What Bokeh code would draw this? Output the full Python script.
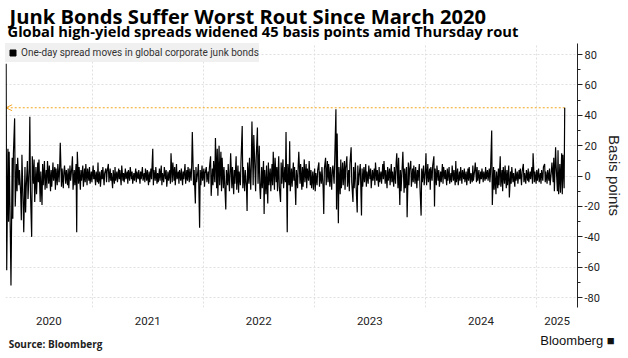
import pandas as pd
from bokeh.plotting import figure
from bokeh.layouts import column
from bokeh.models import (Range1d, FixedTicker, Label, Legend, LegendItem,
                          Arrow, OpenHead, LinearAxis)
from bokeh.embed import file_html
from bokeh.resources import INLINE

title_text = "Junk Bonds Suffer Worst Rout Since March 2020"
subtitle_text = "Global high-yield spreads widened 45 basis points amid Thursday rout"
series_name = "One-day spread moves in global corporate junk bonds"
source_text = "Source: Bloomberg"
brand_text = "Bloomberg \u25A0"
y_axis_label = "Basis points"

last_date = "2025-04-03"
# one-day spread moves (bp), read every ~2 business days
spread_moves = [
    74, -62, 18, -30, 16, -40, -72, 12, -28, 15, 38, -20,
    8, -10, 12, -6, 4, -12, -29, 14, -18, -37, 6, -24,
    -8, 10, -15, 5, 39, -10, -40, 13, -5, 11, -17, 6,
    -12, 9, -4, 11, -17, 3, -19, 8, -6, 10, -9, 4,
    -8, 10, -5, 7, -10, 4, -7, 9, -3, 6, -9, 5,
    -6, 8, -4, 6, 22, -7, 5, -8, 3, 7, -5, 4,
    -6, 5, -8, 7, -3, 6, 13, -9, 4, -6, 8, -37,
    16, -5, 6, -9, 4, -3, 7, -7, 5, -4, 8, -6,
    5, -3, 6, -5, 3, -4, 7, -2, 4, -6, 3, -4,
    9, -5, 3, -7, 4, -2, 6, -6, 2, 5, -4, 3,
    8, -4, 5, -3, 2, -8, 4, -5, 6, -3, 3, -4,
    5, -2, 4, -6, 7, -3, 2, -4, 5, -2, 3, -5,
    4, -3, 6, -2, 3, -5, 2, -3, 5, -4, 3, -2,
    4, -5, 3, -2, 6, -3, 2, -4, 5, -3, 4, -6,
    3, -4, 5, -2, 18, -6, 4, -3, 6, -5, 2, -4,
    5, -3, 7, -6, 2, -4, 6, -2, 4, -7, 3, -3,
    4, -5, 15, -4, 9, -3, 6, -6, 8, -2, 3, -5,
    4, -3, 5, -6, 3, -2, 8, -5, 4, -3, 6, -4,
    5, -3, 7, 29, -6, 4, -18, 6, -4, 3, 8, -34,
    4, -6, 7, -3, 5, -7, 2, 6, -4, 3, -5, 5,
    13, -13, 5, -6, 10, -4, 25, -8, 18, -13, 20, -6,
    16, -10, 12, -8, 6, -12, -22, 4, -6, 8, -10, 2,
    15, -8, 6, -12, 4, -5, 13, -9, 7, -11, 3, -6,
    10, 33, -8, 6, -10, 4, -7, -23, 9, -5, 12, -9,
    8, 36, -6, 27, 4, -10, 12, 32, -5, 20, -8, -15,
    6, -8, 10, -25, 4, -12, 7, -18, 9, -6, 5, -10,
    8, -6, 16, -9, 12, -4, 6, -10, 13, -7, -17, 9,
    -5, 11, -8, 6, -4, 29, -37, 8, -6, 23, -10, 5,
    -7, 9, -3, 6, -19, 4, -8, 7, 16, -5, 8, -9,
    6, -7, 11, -4, 8, -8, 5, -3, 10, -6, 4, -8,
    3, -9, 5, -10, 2, -6, 4, 9, -7, 3, -5, 6,
    -8, -25, 5, 12, -6, 10, -4, 8, -7, 6, -9, 4,
    7, -5, 10, 44, -22, 28, -31, 6, -12, 11, -8, 9,
    -6, 10, -9, 5, 13, -7, 4, -10, 8, 19, -4, -17,
    6, -8, 9, -5, -24, 7, -6, 4, 8, -26, 5, -7,
    6, -4, 8, -7, 3, -5, 7, -2, 5, -8, 4, -3,
    5, -6, 9, -3, 4, -7, 6, -4, 3, -5, 8, -2,
    10, -5, 4, -8, 6, -3, 5, -6, 8, -4, 3, -7,
    6, -5, 9, 15, -8, 12, -19, 4, -10, 7, 16, -11,
    5, -8, 6, -27, 9, -6, 4, 10, -7, 5, -4, 7,
    -5, 6, -8, 4, -3, 8, -6, -26, 5, -4, 7, -6,
    4, 15, -6, 8, -4, 5, -9, 6, -3, 7, 13, -20,
    5, -6, 7, -3, 4, -7, 3, -4, 8, -5, 6, -2,
    4, -6, 5, -3, 6, -5, 2, -4, 7, -3, 4, -6,
    10, -4, 5, -6, 3, -3, 6, -5, 4, -2, 5, -4,
    3, -6, 5, -3, 6, -5, 2, -4, 7, -3, 4, 9,
    -4, 6, -3, 4, -5, 3, -2, 5, -4, 3, -3, 6,
    -2, 4, -3, 5, -4, 2, 30, -19, 6, -9, 4, -12,
    3, -8, 5, -6, 13, -7, 4, -10, 6, -5, 7, -8,
    4, -6, 7, -14, 3, -5, 6, -4, 2, -7, 5, -3,
    3, -5, 4, -2, 5, -6, 3, 8, -4, 2, -5, 4,
    -3, 5, -4, 3, -2, 6, -5, 15, -4, 3, -5, 4,
    -3, 5, -4, 2, -5, 4, -3, 6, 8, -4, 3, -5,
    4, -3, 5, -6, 3, 9, -4, 12, -10, 19, 6, -10,
    17, -12, 8, -11, 15, -12, 14, -8, 45,
]

year_labels = ["2020", "2021", "2022", "2023", "2024", "2025"]
y_ticks = [-80, -60, -40, -20, 0, 20, 40, 60, 80]
y_tick_labels = ["-80", "-60", "-40", "-20", "0", "20", "40", "60", "80"]

dates = pd.bdate_range(end=last_date, periods=len(spread_moves), freq="2B")

x_start = pd.Timestamp("2020-03-22")
x_end = pd.Timestamp("2025-05-15")

W = 628
HEAD_H = 43
MAIN_H = 358 - HEAD_H
FRAME_L, FRAME_R = 5, 577

BODY_FONT = "Roboto"
HEAD_FONT = "Open Sans"


def ms(ts):
    return int(pd.Timestamp(ts).value // 10**6)


# ---- header strip ----
head = figure(width=W, height=HEAD_H, x_range=Range1d(FRAME_L, FRAME_R),
              y_range=Range1d(HEAD_H, 0), x_axis_type=None, y_axis_type=None,
              output_backend="svg", toolbar_location=None,
              min_border_left=FRAME_L, min_border_right=W - FRAME_R,
              min_border_top=0, min_border_bottom=0)
head.outline_line_color = None
head.xgrid.visible = False
head.ygrid.visible = False
head.add_layout(Label(x=9, y=15.5, text=title_text, text_font=HEAD_FONT,
                      text_font_size="20.2px", text_font_style="bold",
                      text_baseline="alphabetic", text_color="black"))
head.add_layout(Label(x=7, y=30.5, text=subtitle_text, text_font=HEAD_FONT,
                      text_font_size="14.7px", text_font_style="bold",
                      text_baseline="alphabetic", text_color="black"))

# ---- main chart ----
x0_ms, x1_ms = ms(x_start), ms(x_end)
p = figure(width=W, height=MAIN_H, x_axis_type="datetime",
           x_range=Range1d(x0_ms, x1_ms),
           y_range=Range1d(-86.5, 87.3),
           y_axis_location="right",
           output_backend="svg", toolbar_location=None,
           min_border_left=FRAME_L, min_border_right=W - FRAME_R,
           min_border_top=0, min_border_bottom=MAIN_H - 264)
p.outline_line_color = None

year_starts = [pd.Timestamp(f"{y}-01-01") for y in year_labels]
grid_ticks = [ms(t) for t in year_starts if x_start < t < x_end]
label_ticks = []
for i, t in enumerate(year_starts):
    lo = max(t, x_start)
    hi = min(pd.Timestamp(f"{int(year_labels[i]) + 1}-01-01"), x_end)
    label_ticks.append(int((ms(lo) + ms(hi)) / 2))

xa = p.xaxis[0]
xa.ticker = FixedTicker(ticks=label_ticks)
xa.major_label_overrides = {t: l for t, l in zip(label_ticks, year_labels)}
xa.axis_line_color = None
xa.major_tick_line_color = None
xa.minor_tick_line_color = None
xa.major_tick_out = 0
xa.major_label_standoff = 9
xa.major_label_text_font = BODY_FONT
xa.major_label_text_font_size = "11.5px"
xa.major_label_text_color = "#222222"

p.xgrid.ticker = FixedTicker(ticks=grid_ticks)
p.xgrid.grid_line_color = "#e0e0e0"
p.xgrid.grid_line_dash = "2 2"

minor = [(a + b) / 2 for a, b in zip(y_ticks, y_ticks[1:])]
ya = p.yaxis[0]
ya.ticker = FixedTicker(ticks=y_ticks, minor_ticks=minor)
ya.major_label_overrides = {t: l for t, l in zip(y_ticks, y_tick_labels)}
ya.axis_line_color = "#222222"
ya.major_tick_line_color = "#222222"
ya.minor_tick_line_color = "#222222"
ya.major_tick_in = 0
ya.major_tick_out = 5
ya.minor_tick_in = 0
ya.minor_tick_out = 3
ya.major_label_standoff = 2
ya.major_label_text_font = BODY_FONT
ya.major_label_text_font_size = "11px"
ya.major_label_text_color = "#222222"
ya.axis_label = y_axis_label
ya.axis_label_standoff = 3
ya.axis_label_text_font = "Liberation Sans"
ya.axis_label_text_font_size = "15px"
ya.axis_label_text_font_style = "normal"
ya.axis_label_text_color = "#222222"

p.ygrid.ticker = FixedTicker(ticks=y_ticks)
p.ygrid.grid_line_color = "#e0e0e0"
p.ygrid.grid_line_dash = "2 2"

orange = "#f5a623"
p.add_layout(Arrow(end=OpenHead(size=6, line_color=orange, line_width=1),
                   x_start=ms(dates[-1]), y_start=spread_moves[-1],
                   x_end=ms(dates[0]), y_end=spread_moves[-1],
                   line_color=orange, line_width=1, line_dash="2 2",
                   level="underlay"))

p.line(x=[ms(d) for d in dates], y=spread_moves, line_color="black", line_width=1.2)

# legend key: a square marker tied to the latest observation (zero size on the chart)
sq = p.scatter(x=[ms(dates[-1])], y=[spread_moves[-1]], marker="square",
               size=0, color="black")
legend = Legend(items=[LegendItem(label=series_name, renderers=[sq])],
                location="top_left", margin=0, padding=0,
                glyph_width=15, glyph_height=19, label_height=19,
                label_standoff=1, label_text_font=BODY_FONT,
                label_text_font_size="10px", label_text_color="#333333",
                background_fill_color="#f0f0f0", background_fill_alpha=1,
                border_line_color=None)
p.add_layout(legend)

# ---- footer row: brand (right end of the axis) and source (left) ----
px_per_ms = (FRAME_R - FRAME_L) / (x1_ms - x0_ms)
brand_tick = x1_ms - 3600 * 1000
source_tick = int(x0_ms + (55 - FRAME_L) / px_per_ms)

brand_axis = LinearAxis(ticker=FixedTicker(ticks=[brand_tick]),
                        major_label_overrides={brand_tick: brand_text},
                        axis_line_color=None, major_tick_line_color=None,
                        minor_tick_line_color=None, major_tick_out=0,
                        major_label_standoff=5,
                        major_label_text_font="Liberation Sans",
                        major_label_text_font_size="13px",
                        major_label_text_color="#111111")
p.add_layout(brand_axis, "below")

source_axis = LinearAxis(ticker=FixedTicker(ticks=[source_tick]),
                         major_label_overrides={source_tick: source_text},
                         axis_line_color=None, major_tick_line_color=None,
                         minor_tick_line_color=None, major_tick_out=0,
                         major_label_standoff=-14,
                         major_label_text_font=HEAD_FONT,
                         major_label_text_font_size="10px",
                         major_label_text_font_style="bold",
                         major_label_text_color="#222222")
p.add_layout(source_axis, "below")

layout = column(head, p, spacing=0)
open("out.html", "w").write(file_html(layout, INLINE))
